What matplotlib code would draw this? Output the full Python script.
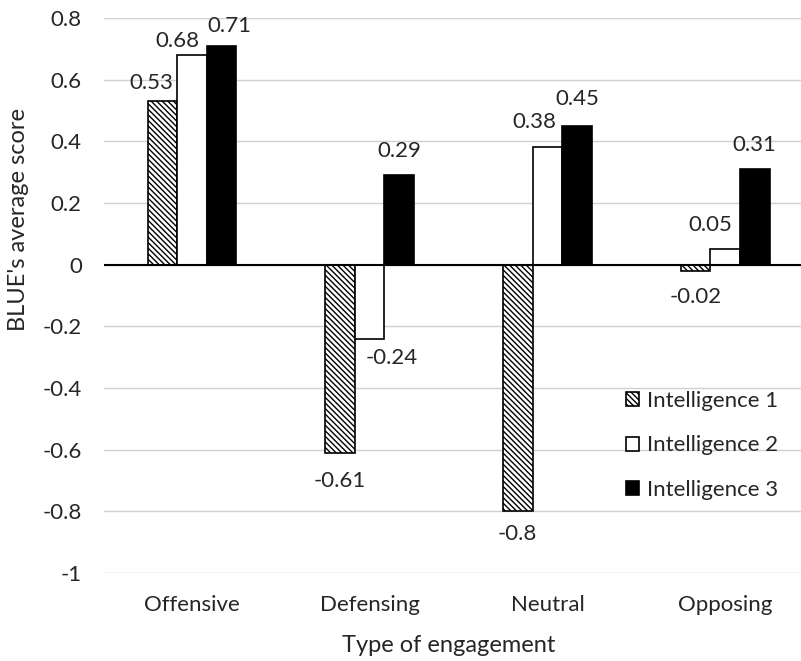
import matplotlib
matplotlib.use("Agg")
import matplotlib.pyplot as plt
import numpy as np

categories = ["Offensive", "Defensing", "Neutral", "Opposing"]
series_names = ["Intelligence 1", "Intelligence 2", "Intelligence 3"]
intel1 = [0.53, -0.61, -0.8, -0.02]
intel2 = [0.68, -0.24, 0.38, 0.05]
intel3 = [0.71, 0.29, 0.45, 0.31]
yticks = [0.8, 0.6, 0.4, 0.2, 0, -0.2, -0.4, -0.6, -0.8, -1]
ytick_labels = ["0.8", "0.6", "0.4", "0.2", "0", "-0.2", "-0.4", "-0.6", "-0.8", "-1"]

# label offsets in pixels (dx, dy) per series per category
label_offsets = [
    [(-11, 18), (0, -28), (0, -23), (0, -26)],
    [(-15, 14), (22, -19), (-13, 25), (-15, 24)],
    [(8, 20), (0, 24), (0, 27), (0, 24)],
]

plt.rcParams['font.family'] = ['Lato', 'DejaVu Sans']
FS = 16
TXT = '#262626'

fig = plt.figure(figsize=(8.01, 6.61), dpi=100)
ax = fig.add_axes([104 / 801, 88 / 661, 697 / 801, 555 / 661])

x = np.arange(len(categories))
w = 0.1667
plt.rcParams['hatch.linewidth'] = 1.0
series = [intel1, intel2, intel3]
styles = [
    dict(facecolor='white', edgecolor='black', hatch='\\\\\\\\\\\\'),
    dict(facecolor='white', edgecolor='black'),
    dict(facecolor='black', edgecolor='black'),
]
handles = []
for k, (vals, st) in enumerate(zip(series, styles)):
    bars = ax.bar(x + (k - 1) * w, vals, width=w, linewidth=1.2, zorder=3,
                  label=series_names[k], **st)
    handles.append(bars)
    for i, b in enumerate(bars):
        v = vals[i]
        dx, dy = label_offsets[k][i]
        ax.annotate(f"{v:g}", xy=(b.get_x() + b.get_width() / 2, v),
                    xytext=(dx, dy), textcoords='offset pixels',
                    ha='center', va='center', fontsize=FS, color=TXT, zorder=5)

ax.set_xlim(-0.495, 3.427)
ax.set_ylim(-1, 0.8)
ax.set_yticks(yticks)
ax.set_yticklabels(ytick_labels)
ax.set_xticks(x)
ax.set_xticklabels(categories)
for s in ax.spines.values():
    s.set_visible(False)
ax.tick_params(axis='both', length=0, labelsize=FS, colors=TXT)
ax.tick_params(axis='x', pad=16)
ax.tick_params(axis='y', pad=16)
ax.yaxis.grid(True, color='#d0d0d0', linewidth=1.0, zorder=0)
ax.set_axisbelow(True)
ax.axhline(0, color='black', linewidth=1.5, zorder=4)

ax.set_xlabel("Type of engagement", fontsize=FS + 1, color=TXT)
ax.xaxis.set_label_coords(0.495, (573 - 645) / 555)
ax.xaxis.label.set_va('center')
ax.set_ylabel("BLUE's average score", fontsize=FS + 1, color=TXT)
ax.yaxis.set_label_coords((18 - 104) / 697, (573 - 220) / 555)
ax.yaxis.label.set_va('center')

leg = ax.legend(handles=handles, loc='upper left', bbox_to_anchor=(626 / 801, (661 - 391) / 661),
                bbox_transform=fig.transFigure, frameon=False, fontsize=FS,
                handlelength=0.6, handleheight=0.6, labelspacing=1.1,
                handletextpad=0.35, borderpad=0, borderaxespad=0)
for t in leg.get_texts():
    t.set_color(TXT)

fig.savefig("out.png", dpi=100)
